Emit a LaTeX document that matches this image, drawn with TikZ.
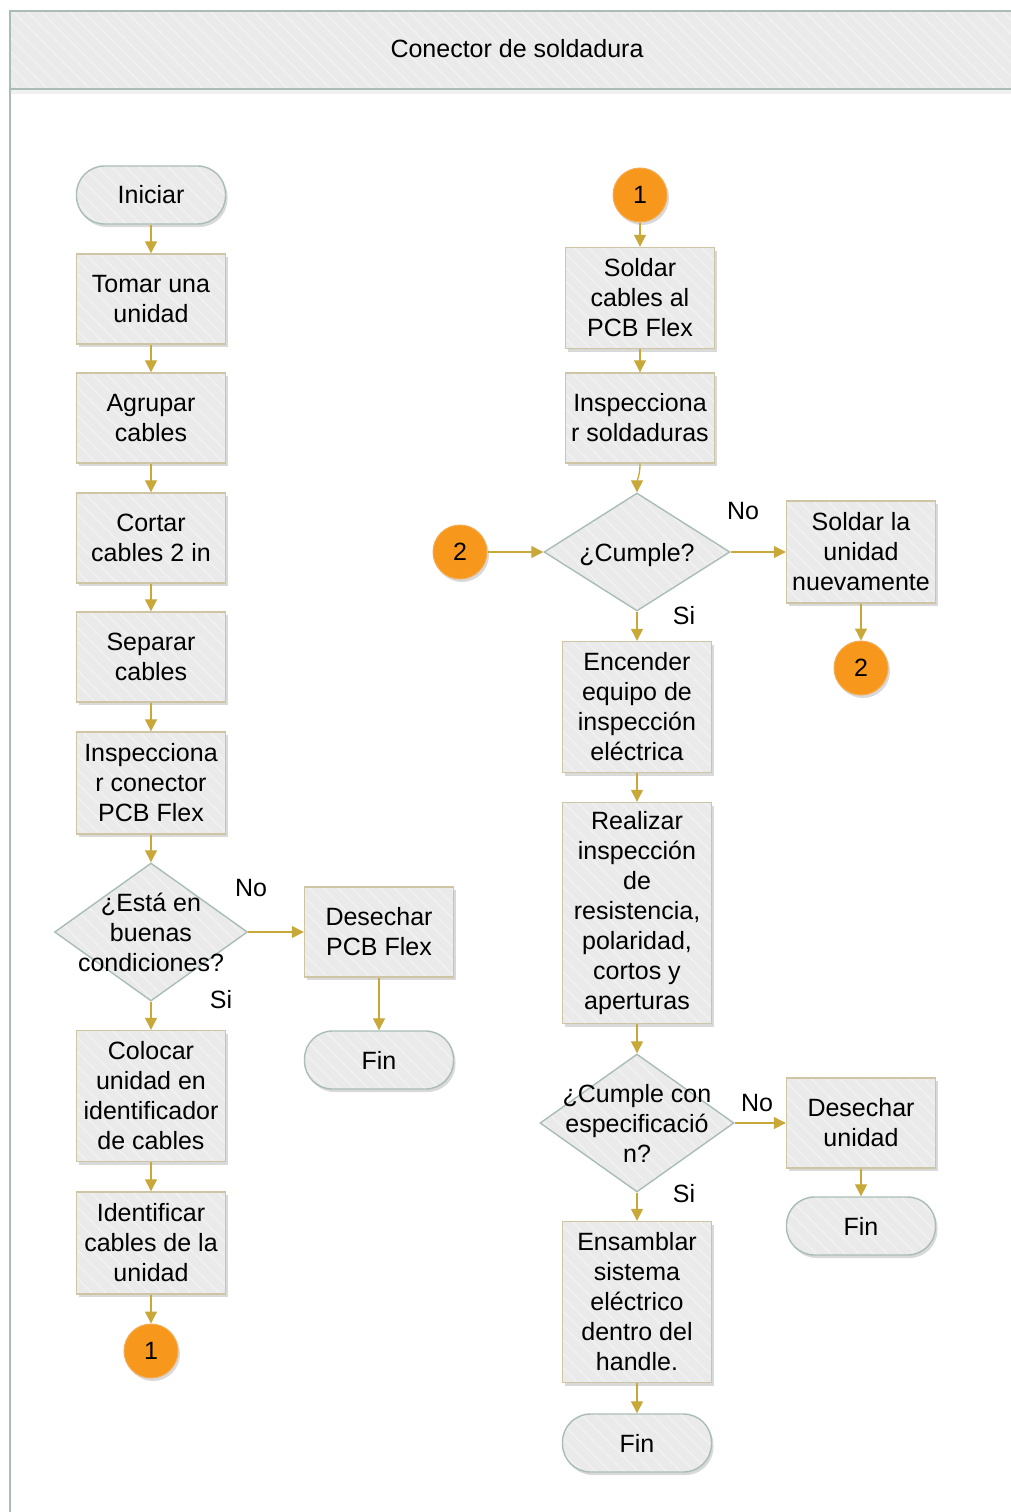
\documentclass[tikz,border=0pt]{standalone}
\usepackage{fontspec}
\setmainfont{Liberation Sans}
\usetikzlibrary{shapes.geometric,shadows,patterns.meta,arrows.meta}
\definecolor{boxfill}{HTML}{EAEAEA}
\definecolor{hatchc}{HTML}{F1F1F1}
\definecolor{boxdraw}{HTML}{CEC5A4}
\definecolor{termdraw}{HTML}{A9BDB6}
\definecolor{arrowc}{HTML}{C9A83A}
\definecolor{orangefill}{HTML}{F7981D}
\definecolor{orangedraw}{HTML}{F4AC52}
\newcommand\dtext[1]{\makebox[0pt]{\smash{\raisebox{-10pt}{\begin{tabular}{@{}c@{}}#1\end{tabular}}}}}
\tikzset{
  base/.style={font=\fontsize{25}{30}\selectfont, align=center, inner sep=0pt, text=black},
  shade/.style={drop shadow={shadow xshift=2pt, shadow yshift=-3pt, opacity=0.15, fill=black}},
  hatched/.style={preaction={fill=boxfill}, pattern={Lines[angle=-45,distance=10pt,line width=1.5pt]}, pattern color=hatchc},
  procbox/.style={base, rectangle, shade, hatched, draw=boxdraw, line width=1.4pt, minimum width=149pt},
  term/.style={base, rectangle, rounded corners=28pt, shade, hatched, draw=termdraw, line width=1.4pt, minimum width=149pt, minimum height=58pt},
  dec/.style={base, diamond, hatched, draw=termdraw, line width=1.4pt},
  conn/.style={base, circle, shade, fill=orangefill, draw=orangedraw, line width=1pt, minimum size=54pt},
  arr/.style={draw=arrowc, line width=1.3pt, -{Triangle[width=12pt,length=12pt]}, fill=none},
  lbl/.style={base}
}
\begin{document}
\begin{tikzpicture}[x=1pt,y=-1pt]
\useasboundingbox[fill=white] (0,0) rectangle (1010,1512);
% header
\fill[black,opacity=0.06] (10,89) rectangle (1012,94);
\path[hatched] (10,11) rectangle (1012,89);
\draw[termdraw, line width=1.4pt] (1012,11) -- (10,11) -- (10,1512);
\draw[termdraw, line width=1.4pt] (10,89) -- (1012,89);
\node[base] (title) at (517,49) {Conector de soldadura};

% left column
\node[term] (start) at (151,195) {Iniciar};
\node[procbox, minimum height=90pt] (tomar) at (151,299) {Tomar una\\unidad};
\node[procbox, minimum height=90pt] (agrupar) at (151,418) {Agrupar\\cables};
\node[procbox, minimum height=90pt] (cortar) at (151,538) {Cortar\\cables 2 in};
\node[procbox, minimum height=90pt] (separar) at (151,657) {Separar\\cables};
\node[procbox, minimum height=102pt] (inspc) at (151,783) {Inspecciona\\r conector\\PCB Flex};
\node[dec, minimum width=193pt, minimum height=138pt] (d1) at (151,932) {\dtext{¿Está en\\buenas\\condiciones?}};
\node[procbox, minimum height=90pt] (des1) at (379,932) {Desechar\\PCB Flex};
\node[term] (fin1) at (379,1060) {Fin};
\node[procbox, minimum height=131pt] (colocar) at (151,1096) {Colocar\\unidad en\\identificador\\de cables};
\node[procbox, minimum height=102pt] (ident) at (151,1243) {Identificar\\cables de la\\unidad};
\node[conn] (c1) at (151,1351) {1};
\node[lbl] (no1) at (251,888) {No};
\node[lbl] (si1) at (221,1000) {Si};

% right column
\node[conn] (c1r) at (640,195) {1};
\node[procbox, minimum height=101pt] (soldar) at (640,298) {Soldar\\cables al\\PCB Flex};
\node[procbox, minimum height=90pt] (insps) at (640,418) {Inspecciona\\r soldaduras};
\node[dec, minimum width=186pt, minimum height=118pt] (d2) at (637,552) {\dtext{¿Cumple?}};
\node[conn] (c2l) at (460,552) {2};
\node[procbox, minimum height=102pt] (soldarla) at (861,552) {Soldar la\\unidad\\nuevamente};
\node[conn] (c2r) at (861,668) {2};
\node[procbox, minimum height=131pt] (encender) at (637,707) {Encender\\equipo de\\inspección\\eléctrica};
\node[procbox, minimum height=221pt] (realizar) at (637,913) {Realizar\\inspección\\de\\resistencia,\\polaridad,\\cortos y\\aperturas};
\node[dec, minimum width=194pt, minimum height=138pt] (d3) at (637,1123) {\dtext{¿Cumple con\\especificació\\n?}};
\node[procbox, minimum height=90pt] (des2) at (861,1123) {Desechar\\unidad};
\node[term] (fin2) at (861,1226) {Fin};
\node[procbox, minimum height=161pt] (ensam) at (637,1302) {Ensamblar\\sistema\\eléctrico\\dentro del\\handle.};
\node[term] (fin3) at (637,1443) {Fin};
\node[lbl] (no2) at (743,511) {No};
\node[lbl] (si2) at (684,616) {Si};
\node[lbl] (no3) at (757,1103) {No};
\node[lbl] (si3) at (684,1194) {Si};

% connectors
\draw[arr] (start) -- (tomar);
\draw[arr] (tomar) -- (agrupar);
\draw[arr] (agrupar) -- (cortar);
\draw[arr] (cortar) -- (separar);
\draw[arr] (separar) -- (inspc);
\draw[arr] (inspc) -- (d1.north);
\draw[arr] (d1.east) -- (des1.west);
\draw[arr] (des1) -- (fin1);
\draw[arr] (d1.south) -- (colocar.north);
\draw[arr] (colocar) -- (ident);
\draw[arr] (ident) -- (c1);

\draw[arr] (c1r) -- (soldar);
\draw[arr] (soldar) -- (insps);
\draw[arr] (insps.south) to[out=-90,in=90] (d2.north);
\draw[arr] (c2l.east) -- (d2.west);
\draw[arr] (d2.east) -- (soldarla.west);
\draw[arr] (soldarla) -- (c2r);
\draw[arr] (d2.south) -- (encender.north);
\draw[arr] (encender) -- (realizar);
\draw[arr] (realizar.south) -- (d3.north);
\draw[arr] (d3.east) -- (des2.west);
\draw[arr] (des2) -- (fin2);
\draw[arr] (d3.south) -- (ensam.north);
\draw[arr] (ensam) -- (fin3);
\end{tikzpicture}
\end{document}
